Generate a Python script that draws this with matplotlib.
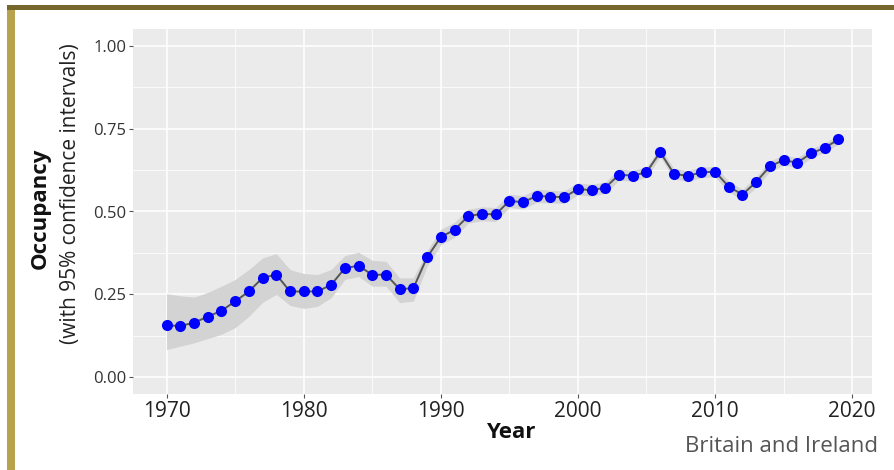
import matplotlib
matplotlib.use('Agg')
import matplotlib.pyplot as plt
from matplotlib.patches import Rectangle

plt.rcParams['font.family'] = ['Open Sans', 'DejaVu Sans']

years = list(range(1970, 2020))
occupancy = [0.157, 0.155, 0.165, 0.183, 0.201, 0.229, 0.259, 0.300, 0.310, 0.259,
             0.259, 0.259, 0.279, 0.329, 0.337, 0.309, 0.310, 0.266, 0.269, 0.362,
             0.423, 0.445, 0.486, 0.493, 0.491, 0.532, 0.528, 0.547, 0.545, 0.543,
             0.568, 0.564, 0.572, 0.611, 0.608, 0.618, 0.679, 0.614, 0.607, 0.618,
             0.620, 0.575, 0.551, 0.589, 0.636, 0.655, 0.647, 0.675, 0.692, 0.717]
ci_lower = [0.084, 0.094, 0.104, 0.117, 0.130, 0.150, 0.184, 0.226, 0.250, 0.217,
            0.208, 0.214, 0.240, 0.295, 0.304, 0.275, 0.275, 0.225, 0.230, 0.335,
            0.400, 0.422, 0.465, 0.472, 0.470, 0.512, 0.508, 0.527, 0.526, 0.524,
            0.550, 0.546, 0.555, 0.594, 0.592, 0.602, 0.665, 0.598, 0.591, 0.602,
            0.604, 0.559, 0.535, 0.573, 0.620, 0.640, 0.632, 0.661, 0.678, 0.703]
ci_upper = [0.252, 0.246, 0.242, 0.256, 0.275, 0.295, 0.325, 0.360, 0.373, 0.325,
            0.313, 0.310, 0.325, 0.367, 0.377, 0.353, 0.350, 0.300, 0.300, 0.382,
            0.446, 0.468, 0.507, 0.514, 0.512, 0.552, 0.548, 0.567, 0.564, 0.562,
            0.586, 0.582, 0.589, 0.628, 0.624, 0.634, 0.693, 0.630, 0.623, 0.634,
            0.636, 0.591, 0.567, 0.605, 0.652, 0.670, 0.662, 0.689, 0.706, 0.731]

x_ticks = [1970, 1980, 1990, 2000, 2010, 2020]
y_ticks = [0.0, 0.25, 0.5, 0.75, 1.0]
y_labels = ['0.00', '0.25', '0.50', '0.75', '1.00']

fig = plt.figure(figsize=(8.94, 4.70), dpi=100)
fig.patch.set_facecolor('white')

# gold frame along the top and left edge
fig.patches.append(Rectangle((7 / 894, 0), 8 / 894, 1 - 5 / 470, transform=fig.transFigure,
                             facecolor='#b8a24e', edgecolor='none', zorder=0))
fig.patches.append(Rectangle((7 / 894, 1 - 10 / 470), 1, 5 / 470, transform=fig.transFigure,
                             facecolor='#76672c', edgecolor='none', zorder=0))

ax = fig.add_axes([133 / 894, 76 / 470, 739 / 894, 365 / 470])
ax.set_facecolor('#ebebeb')
for s in ax.spines.values():
    s.set_visible(False)

ax.set_xlim(1967.55, 2021.45)
ax.set_ylim(-0.05, 1.05)
ax.set_xticks(x_ticks)
ax.set_xticks([1975, 1985, 1995, 2005, 2015], minor=True)
ax.set_yticks(y_ticks)
ax.set_yticklabels(y_labels)
ax.set_yticks([0.125, 0.375, 0.625, 0.875], minor=True)
ax.grid(which='major', color='white', linewidth=1.1)
ax.grid(which='minor', color='white', linewidth=0.55)
ax.set_axisbelow(True)
ax.tick_params(which='major', length=3, color='#555555', width=0.8)
ax.tick_params(which='minor', length=0)
ax.tick_params(axis='x', labelsize=15, labelcolor='#222222', pad=2)
ax.tick_params(axis='y', labelsize=12, labelcolor='#333333', pad=2)

ax.fill_between(years, ci_lower, ci_upper, color='#d3d3d3', linewidth=0, zorder=2)
ax.plot(years, occupancy, color='#555555', linewidth=1.4, zorder=3)
ax.plot(years, occupancy, 'o', color='#0000ff', markersize=8, markeredgewidth=0, zorder=4)

fig.text(511 / 894, 1 - 432 / 470, 'Year', fontsize=16, fontweight='bold',
         ha='center', va='center', color='#111111')
fig.text(40 / 894, 1 - 208 / 470, 'Occupancy', fontsize=16, fontweight='bold',
         rotation=90, ha='center', va='center', color='#111111')
fig.text(71 / 894, 1 - 194 / 470, '(with 95% confidence intervals)', fontsize=15,
         rotation=90, ha='center', va='center', color='#222222')
fig.text(878 / 894, 1 - 446 / 470, 'Britain and Ireland', fontsize=16,
         ha='right', va='center', color='#555555')

fig.savefig('out.png', dpi=100)
